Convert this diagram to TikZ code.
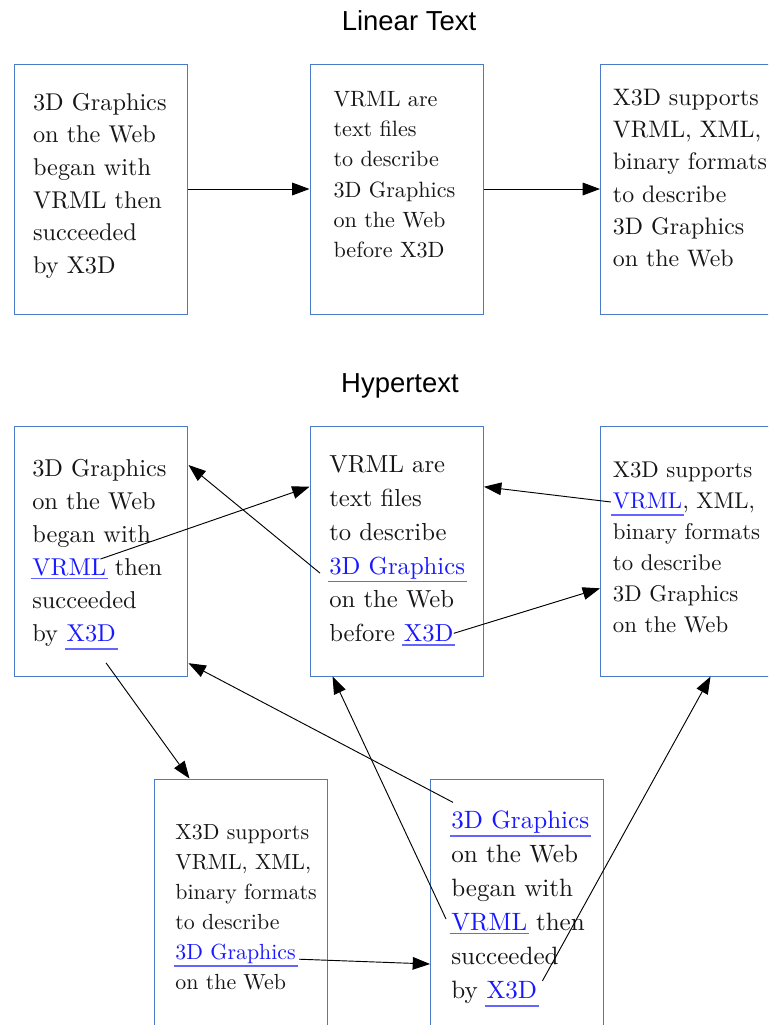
\documentclass[tikz,border=0pt]{standalone}
\usepackage{fontspec}
\newfontfamily\lmten[Ligatures=TeX]{lmroman10-regular.otf}
\newfontfamily\sansf{Liberation Sans}
\usetikzlibrary{arrows.meta}
\definecolor{boxc}{RGB}{74,122,200}
\definecolor{linkc}{RGB}{25,25,255}
\definecolor{ulc}{RGB}{100,100,255}
\definecolor{txtc}{RGB}{22,22,22}
\tikzset{
  box/.style={draw=boxc, line width=0.75pt, minimum width=130.1pt, minimum height=187.5pt, inner sep=0pt},
  txt/.style={inner sep=0pt, anchor=base west, text=txtc},
  lnk/.style={inner sep=0pt, anchor=base west, text=linkc},
  ul/.style={draw=ulc, line width=1.3pt},
  arr/.style={draw=black, line width=0.7pt, -{Triangle[length=13pt,width=9.5pt]}},
  title/.style={inner sep=0pt, anchor=base, font=\sansf\fontsize{20.6pt}{24pt}\selectfont, text=black},
  fa/.style={font=\lmten\fontsize{#1}{#1}\selectfont}
}
\newcommand\ulk[2]{\draw[ul] ([xshift=-1.1pt,yshift=-#2]#1.base west) -- ([xshift=1.1pt,yshift=-#2]#1.base east);}
\begin{document}
\begin{tikzpicture}[x=0.75pt,y=-0.75pt]
\useasboundingbox (0,0) rectangle (768,1025);
\clip (0,0) rectangle (768,1025);
% titles
\node[title] (t1) at (409,30.7) {Linear Text};
\node[title] (t2) at (400,392.7) {Hypertext};
% boxes
\node[box] (a1) at (101.25,189) {};
\node[box] (a2) at (396.75,189) {};
\node[box] (a3) at (687.25,189) {};
\node[box] (b1) at (101.25,551) {};
\node[box] (b2) at (396.75,551) {};
\node[box] (b3) at (687.25,551) {};
\node[box] (c1) at (241.25,904) {};
\node[box] (c2) at (517.25,904) {};
% linear texts
\foreach \t [count=\i from 0] in {3D Graphics, on the Web, began with, VRML then, succeeded, by X3D}
  \node[txt, fa=18.2pt] (a1l\i) at (32.8,110+32.7*\i) {\t};
\foreach \t [count=\i from 0] in {VRML are, text files, to describe, 3D Graphics, on the Web, before X3D}
  \node[txt, fa=16.6pt] (a2l\i) at (333.3,106.7+30.1*\i) {\t};
\foreach \t [count=\i from 0] in {X3D supports, {VRML, XML,}, binary formats, to describe, 3D Graphics, on the Web}
  \node[txt, fa=17.9pt] (a3l\i) at (612.7,105.3+32.3*\i) {\t};
\draw[arr] (a1) -- (a2);
\draw[arr] (a2) -- (a3);
% hypertext B1
\node[txt, fa=18.3pt] (b1l0) at (32,476) {3D Graphics};
\node[txt, fa=18.3pt] (b1l1) at (32,509.1) {on the Web};
\node[txt, fa=18.3pt] (b1l2) at (32,542.2) {began with};
\node[lnk, fa=18.3pt] (b1vrml) at (32,575.3) {VRML};
\node[txt, fa=18.3pt] (b1l3) at (b1vrml.base east) {\ then};
\node[txt, fa=18.3pt] (b1l4) at (32,608.4) {succeeded};
\node[txt, fa=18.3pt] (b1l5) at (32,641.5) {by};
\node[lnk, fa=18.3pt, xshift=6.1pt] (b1x3d) at (b1l5.base east) {X3D};
\ulk{b1vrml}{2.3pt}
\ulk{b1x3d}{5.6pt}
% B2
\node[txt, fa=18.5pt] (b2l0) at (329,472.7) {VRML are};
\node[txt, fa=18.5pt] (b2l1) at (329,506.5) {text files};
\node[txt, fa=18.5pt] (b2l2) at (329,540.3) {to describe};
\node[lnk, fa=18.5pt] (b2gfx) at (329,574.1) {3D Graphics};
\node[txt, fa=18.5pt] (b2l4) at (329,607.9) {on the Web};
\node[txt, fa=18.5pt] (b2l5) at (329,641.7) {before};
\node[lnk, fa=18.5pt, xshift=6.17pt] (b2x3d) at (b2l5.base east) {X3D};
\ulk{b2gfx}{5.6pt}
\ulk{b2x3d}{2.3pt}
% B3
\node[txt, fa=17.1pt] (b3l0) at (612.7,477.3) {X3D supports};
\node[lnk, fa=17.1pt] (b3vrml) at (612.7,508.4) {VRML};
\node[txt, fa=17.1pt] (b3l1) at (b3vrml.base east) {, XML,};
\node[txt, fa=17.1pt] (b3l2) at (612.7,539.5) {binary formats};
\node[txt, fa=17.1pt] (b3l3) at (612.7,570.6) {to describe};
\node[txt, fa=17.1pt] (b3l4) at (612.7,601.7) {3D Graphics};
\node[txt, fa=17.1pt] (b3l5) at (612.7,632.8) {on the Web};
\ulk{b3vrml}{5.2pt}
% C1
\node[txt, fa=16.4pt] (c1l0) at (175.2,839) {X3D supports};
\node[txt, fa=16.4pt] (c1l1) at (175.2,869.1) {VRML, XML,};
\node[txt, fa=16.4pt] (c1l2) at (175.2,899.1) {binary formats};
\node[txt, fa=16.4pt] (c1l3) at (175.2,929.2) {to describe};
\node[lnk, fa=16.4pt] (c1gfx) at (175.2,959.2) {3D Graphics};
\node[txt, fa=16.4pt] (c1l5) at (175.2,989.3) {on the Web};
\ulk{c1gfx}{5.0pt}
% C2
\node[lnk, fa=18.8pt] (c2gfx) at (451,828.3) {3D Graphics};
\node[txt, fa=18.8pt] (c2l1) at (451,862.3) {on the Web};
\node[txt, fa=18.8pt] (c2l2) at (451,896.3) {began with};
\node[lnk, fa=18.8pt] (c2vrml) at (451,930.3) {VRML};
\node[txt, fa=18.8pt] (c2l3) at (c2vrml.base east) {\ then};
\node[txt, fa=18.8pt] (c2l4) at (451,964.3) {succeeded};
\node[txt, fa=18.8pt] (c2l5) at (451,998.3) {by};
\node[lnk, fa=18.8pt, xshift=6.27pt] (c2x3d) at (c2l5.base east) {X3D};
\ulk{c2gfx}{5.6pt}
\ulk{c2vrml}{2.3pt}
\ulk{c2x3d}{5.8pt}
% hyperlinks
\draw[arr] ([xshift=-4.5pt,yshift=-0.5pt]b1vrml.north east) -- ([yshift=48.2pt]b2.west);
\draw[arr] ([xshift=-6.75pt,yshift=0.75pt]b2gfx.base west) -- ([yshift=64.5pt]b1.east);
\draw[arr] ([xshift=-1.3pt,yshift=4.8pt]b3vrml.base west) -- ([yshift=48.2pt]b2.east);
\draw[arr] ([yshift=6.3pt]b2x3d.base east) -- ([yshift=-28pt]b3.west);
\draw[arr] ([xshift=-7.5pt,yshift=-16.1pt]b1x3d.base east) -- ([xshift=26.6pt]c1.north west);
\draw[arr] ([xshift=1.5pt,yshift=6pt]c2gfx.north west) -- ([yshift=10pt]b1.south east);
\draw[arr] ([xshift=-3.75pt,yshift=8.5pt]c2vrml.base west) -- ([xshift=17.25pt]b2.south west);
\draw[arr] ([xshift=2.25pt]c1gfx.base east) -- ([yshift=-45pt]c2.west);
\draw[arr] ([xshift=3.75pt,yshift=13pt]c2x3d.base east) -- ([xshift=82.9pt]b3.south west);
\end{tikzpicture}
\end{document}
